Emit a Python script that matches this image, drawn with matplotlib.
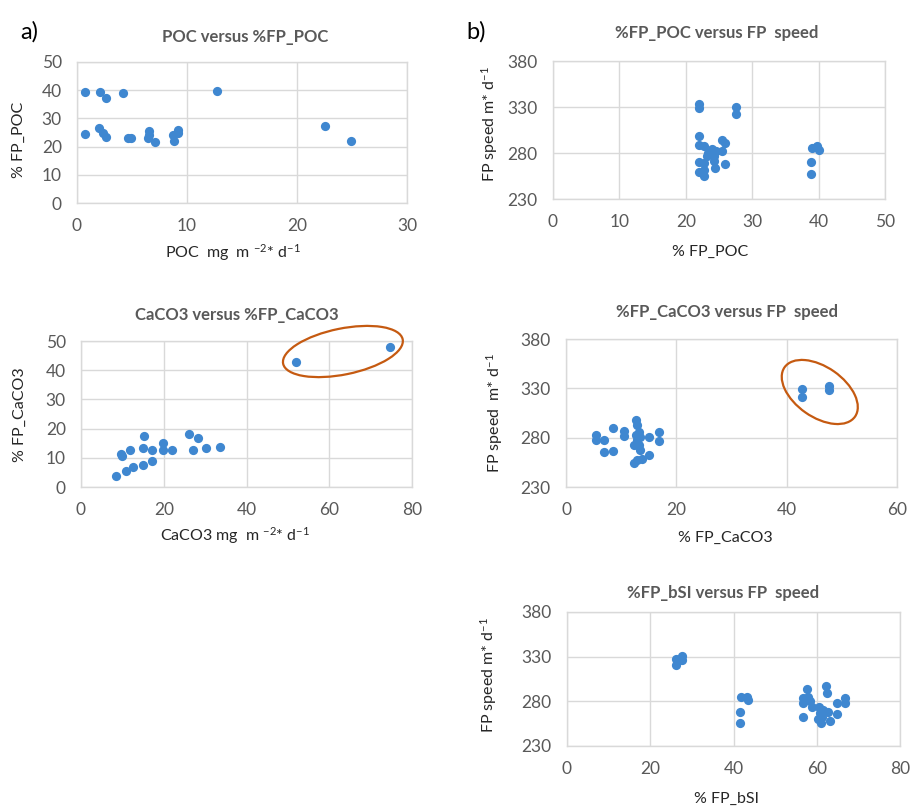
import matplotlib
matplotlib.use("Agg")
import matplotlib.pyplot as plt
from matplotlib.patches import Ellipse
from matplotlib.transforms import ScaledTranslation

plt.rcParams['font.family'] = ['Lato', 'DejaVu Sans']
plt.rcParams['mathtext.fontset'] = 'custom'
plt.rcParams['mathtext.rm'] = 'Lato'
plt.rcParams['mathtext.it'] = 'Lato'

# ---- data ----
poc_x = [0.7, 2.05, 2.67, 4.19, 12.7, 0.7, 1.97, 2.37, 2.67, 4.65, 4.95, 6.53, 6.53, 6.47,
         7.08, 8.69, 8.81, 9.2, 9.2, 22.5, 24.9]
poc_y = [39.2, 39.2, 37.1, 39.1, 39.8, 24.4, 26.5, 24.7, 23.3, 22.9, 22.9, 25.5, 24.1, 22.9,
         21.8, 24.1, 22.1, 25.9, 24.7, 27.4, 22.0]

fppoc_x = [22.0, 22.0, 27.5, 27.5, 22.0, 22.0, 22.8, 22.0, 22.0, 22.8, 22.8, 23.2, 23.4, 23.9,
           24.2, 24.2, 24.4, 24.6, 25.5, 25.9, 25.5, 25.9, 22.7, 38.8, 38.8, 39.0, 39.7, 40.0]
fppoc_speed = [333.0, 328.7, 329.7, 322.2, 298.0, 288.9, 287.1, 269.8, 258.9, 254.6, 261.8,
               276.3, 279.9, 284.2, 276.3, 270.8, 263.6, 281.7, 293.6, 290.7, 281.7, 268.0,
               269.0, 269.8, 257.5, 285.3, 287.1, 282.8]

caco3_x = [8.45, 9.57, 9.81, 10.9, 11.8, 12.5, 14.9, 15.05, 15.2, 17.1, 17.1, 19.9, 19.9,
           22.1, 26.2, 27.0, 28.2, 30.3, 33.6, 51.9, 74.8]
caco3_y = [3.8, 11.4, 10.6, 5.4, 12.6, 6.9, 7.7, 13.2, 17.5, 12.8, 8.8, 14.9, 12.6, 12.6,
           18.0, 12.8, 16.9, 13.5, 13.7, 42.9, 47.8]

fpcaco3_x = [42.8, 42.8, 47.6, 47.6, 5.5, 5.5, 6.8, 6.8, 8.6, 8.6, 10.6, 10.6, 12.7, 12.9,
             13.2, 12.3, 12.3, 12.9, 13.2, 13.35, 13.5, 13.8, 15.1, 15.1, 16.9, 16.9, 12.6, 12.9]
fpcaco3_speed = [328.9, 321.4, 332.6, 328.2, 283.2, 278.1, 278.1, 265.6, 266.6, 289.9, 286.5,
                 281.5, 297.7, 292.6, 285.9, 272.3, 254.4, 257.1, 272.3, 280.8, 267.2, 258.8,
                 280.8, 262.2, 285.9, 276.7, 282.5, 277.4]

fpbsi_x = [26.2, 26.2, 26.8, 27.6, 27.6, 41.6, 41.6, 41.8, 43.2, 43.6, 56.6, 56.6, 56.8, 57.6,
           58.0, 58.4, 58.8, 60.6, 60.8, 60.4, 61.0, 61.2, 61.6, 62.2, 62.4, 62.8, 63.2, 64.9,
           64.9, 66.8, 66.8]
fpbsi_speed = [320.4, 327.9, 326.8, 330.5, 326.8, 268.3, 256.1, 284.3, 285.1, 281.4, 283.2,
               278.4, 262.8, 293.3, 285.1, 280.2, 273.2, 273.2, 266.5, 259.8, 255.3, 262.8,
               270.2, 297.0, 288.8, 268.3, 258.3, 265.7, 278.4, 283.2, 278.4]

W, H = 911, 808
fig = plt.figure(figsize=(W / 100, H / 100), dpi=100)

BLUE = '#3f87d0'
GRID = '#d9d9d9'
TICK = '#595959'
LAB = '#262626'
ORANGE = '#c55a11'


def make_ax(l, r, t, b):
    return fig.add_axes([l / W, 1 - b / H, (r - l) / W, (b - t) / H])


def style(ax, xlim, xticks, ylim, yticks, title, xlabel, ylabel, title_xy, xlab_xy, ylab_xy):
    ax.set_xlim(*xlim)
    ax.set_ylim(*ylim)
    ax.set_xticks(xticks)
    ax.set_yticks(yticks)
    ax.set_axisbelow(True)
    ax.grid(True, color=GRID, linewidth=1.0)
    for s in ax.spines.values():
        s.set_color(GRID)
        s.set_linewidth(1.0)
    ax.tick_params(length=0, pad=11, labelsize=12.5, labelcolor=TICK)
    fig.text(title_xy[0] / W, 1 - title_xy[1] / H, title, ha='center', va='center',
             fontsize=12, fontweight='bold', color=TICK)
    fig.text(xlab_xy[0] / W, 1 - xlab_xy[1] / H, xlabel, ha='center', va='center',
             fontsize=11.5, color=LAB)
    fig.text(ylab_xy[0] / W, 1 - ylab_xy[1] / H, ylabel, ha='center', va='center',
             fontsize=11.5, color=LAB, rotation=90)


def add_ellipse(ax, cx, cy, w_px, h_px, angle):
    tr = fig.dpi_scale_trans + ScaledTranslation(cx, cy, ax.transData)
    e = Ellipse((0, 0), w_px / 100, h_px / 100, angle=angle, transform=tr,
                fill=False, edgecolor=ORANGE, linewidth=1.6, clip_on=False, zorder=5)
    ax.add_patch(e)


MS = 44

# panel 1
ax1 = make_ax(77, 407, 62, 203)
ax1.scatter(poc_x, poc_y, s=MS, color=BLUE, zorder=3, linewidths=0)
style(ax1, (0, 30), [0, 10, 20, 30], (0, 50), [0, 10, 20, 30, 40, 50],
      'POC versus %FP_POC', r'POC  mg  m $^{-2}$* d$^{-1}$', '% FP_POC',
      (245, 37), (233, 253), (19, 140))

# panel 2
ax2 = make_ax(553, 885, 61, 199)
ax2.scatter(fppoc_x, fppoc_speed, s=MS, color=BLUE, zorder=3, linewidths=0)
style(ax2, (0, 50), [0, 10, 20, 30, 40, 50], (230, 380), [230, 280, 330, 380],
      '%FP_POC versus FP  speed', '% FP_POC', r'FP speed m* d$^{-1}$',
      (717, 33), (710, 252), (490, 124))

# panel 3
ax3 = make_ax(81, 412, 341, 487)
ax3.scatter(caco3_x, caco3_y, s=MS, color=BLUE, zorder=3, linewidths=0)
style(ax3, (0, 80), [0, 20, 40, 60, 80], (0, 50), [0, 10, 20, 30, 40, 50],
      'CaCO3 versus %FP_CaCO3', r'CaCO3 mg  m $^{-2}$* d$^{-1}$', '% FP_CaCO3',
      (237, 315), (235, 536), (20, 415))
add_ellipse(ax3, 63.3, 46.4, 122, 46, 11.5)

# panel 4
ax4 = make_ax(566, 897, 339, 487)
ax4.scatter(fpcaco3_x, fpcaco3_speed, s=MS, color=BLUE, zorder=3, linewidths=0)
style(ax4, (0, 60), [0, 20, 40, 60], (230, 380), [230, 280, 330, 380],
      '%FP_CaCO3 versus FP  speed', '% FP_CaCO3', r'FP speed  m* d$^{-1}$',
      (727, 312), (725, 538), (495, 413))
add_ellipse(ax4, 46.0, 326.3, 86, 50, -35)

# panel 5
ax5 = make_ax(567, 900, 612, 746)
ax5.scatter(fpbsi_x, fpbsi_speed, s=MS, color=BLUE, zorder=3, linewidths=0)
style(ax5, (0, 80), [0, 20, 40, 60, 80], (230, 380), [230, 280, 330, 380],
      '%FP_bSI versus FP  speed', '% FP_bSI', r'FP speed m* d$^{-1}$',
      (723, 593), (727, 799), (489, 675))

fig.text(29 / W, 1 - 32 / H, 'a)', ha='center', va='center', fontsize=17, color='#000000')
fig.text(476 / W, 1 - 32 / H, 'b)', ha='center', va='center', fontsize=17, color='#000000')

fig.savefig('out.png', dpi=100)
